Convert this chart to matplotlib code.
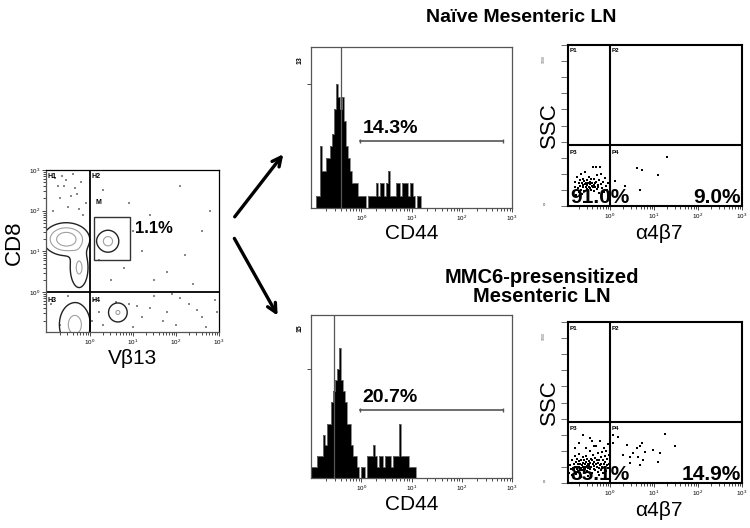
import numpy as np
import matplotlib.pyplot as plt
from matplotlib.patches import FancyArrowPatch, Rectangle
from matplotlib.ticker import LogLocator, NullFormatter, FixedLocator

plt.rcParams['font.family'] = ['Liberation Sans', 'DejaVu Sans']

W, H = 750, 528

# ---- data (log10 units for fluorescence axes) ----
# CD8 vs Vb13 density clusters: centre x, centre y, sd x, sd y, weight
clu_cx = [-0.55, -0.25, -0.35, 0.42, 0.65]
clu_cy = [1.30, 0.60, -0.80, 1.25, -0.50]
clu_sx = [0.24, 0.12, 0.20, 0.14, 0.13]
clu_sy = [0.18, 0.28, 0.30, 0.15, 0.14]
clu_w = [1.0, 0.35, 0.40, 0.40, 0.32]

dots_x = [-0.8, -0.6, -0.4, -0.2, -0.7, -0.5, -0.3, -0.1, -0.85, -0.15, -0.65, -0.35,
          0.3, 0.9, 1.4, 2.1, 2.6, 1.2, 0.8, 1.8, 0.5, 2.2, 1.5, 2.8, 0.2, 1.0, 2.4,
          0.1, 0.3, 0.9, 1.2, 1.5, 1.8, 2.0, 2.3, 2.6, 2.9, 0.2, 1.0, 1.4, 2.1, 2.7,
          0.05, 1.7, 2.95, -0.9, -0.7, -0.5, -0.75, -0.45, -0.25, -0.55, 0.6, 1.1, 1.9, 2.5]
dots_y = [2.8, 2.6, 2.9, 2.7, 2.3, 2.1, 2.4, 2.2, 2.0, 1.9, 2.85, 2.55,
          2.5, 2.2, 1.9, 2.6, 1.5, 1.0, 0.6, 0.5, 0.3, 0.9, 0.3, 2.0, 0.8, 1.5, 0.2,
          -0.2, -0.8, -0.3, -0.6, -0.1, -0.5, -0.8, -0.3, -0.6, -0.2, -0.5, -0.85, -0.4,
          -0.15, -0.85, -0.7, -0.7, -0.5, -0.3, -0.8, -0.1, 2.6, 2.35, 2.05, 2.75, -0.25, -0.35, -0.05, -0.45]

# CD44 histograms (log bins of width 0.04)
naive_start = -0.90
naive_counts = [1, 1, 5, 3, 3, 4, 4, 5, 6, 8, 10, 9, 8, 9, 7, 5, 4, 3, 2, 2,
                2, 1, 1, 1, 1, 0, 1, 1, 1, 1, 2, 1, 2, 2, 1, 2, 3, 1, 1, 1,
                2, 2, 1, 2, 2, 2, 1, 2, 1, 0, 1, 1]
mmc_start = -1.00
mmc_counts = [1, 1, 1, 2, 2, 2, 4, 3, 5, 5, 7, 8, 9, 10, 12, 9, 8, 7, 5, 5,
              3, 2, 2, 1, 0, 1, 1, 0, 2, 2, 2, 3, 2, 1, 2, 2, 1, 2, 2, 2,
              1, 2, 2, 2, 5, 2, 2, 2, 2, 1, 1, 1]
bin_w = 0.04

# a4b7 (log10) vs SSC dot plots
naive_p3 = [(-0.82, 95), (-0.80, 150), (-0.78, 120), (-0.76, 70), (-0.74, 180), (-0.72, 110),
            (-0.71, 140), (-0.70, 85), (-0.68, 160), (-0.67, 125), (-0.66, 200), (-0.65, 100),
            (-0.64, 145), (-0.63, 75), (-0.62, 130), (-0.61, 170), (-0.60, 115), (-0.59, 155),
            (-0.58, 95), (-0.57, 135), (-0.56, 210), (-0.55, 120), (-0.54, 145), (-0.53, 105),
            (-0.52, 160), (-0.51, 130), (-0.50, 90), (-0.49, 140), (-0.48, 180), (-0.47, 120),
            (-0.46, 150), (-0.45, 110), (-0.44, 135), (-0.43, 165), (-0.42, 100), (-0.41, 125),
            (-0.40, 145), (-0.39, 240), (-0.38, 115), (-0.37, 130), (-0.36, 170), (-0.35, 95),
            (-0.34, 140), (-0.33, 120), (-0.32, 240), (-0.31, 150), (-0.30, 105), (-0.29, 190),
            (-0.28, 130), (-0.26, 115), (-0.25, 160), (-0.24, 80), (-0.22, 240), (-0.21, 135),
            (-0.19, 200), (-0.17, 110), (-0.15, 150), (-0.13, 90), (-0.11, 175), (-0.09, 125),
            (-0.07, 100), (-0.05, 145)]
naive_p4 = [(0.11, 157), (0.34, 126), (0.61, 238), (0.68, 99), (0.72, 224), (1.09, 193), (1.29, 306)]

mmc_p3 = [(-0.92, 60), (-0.90, 110), (-0.88, 85), (-0.86, 140), (-0.85, 50), (-0.83, 95),
          (-0.82, 120), (-0.80, 70), (-0.79, 165), (-0.78, 100), (-0.77, 130), (-0.76, 55),
          (-0.75, 90), (-0.74, 150), (-0.73, 115), (-0.72, 75), (-0.71, 135), (-0.70, 100),
          (-0.69, 180), (-0.68, 60), (-0.67, 120), (-0.66, 95), (-0.65, 145), (-0.64, 110),
          (-0.63, 80), (-0.62, 160), (-0.61, 125), (-0.60, 100), (-0.59, 70), (-0.58, 140),
          (-0.57, 115), (-0.56, 90), (-0.55, 170), (-0.54, 130), (-0.53, 105), (-0.52, 75),
          (-0.51, 150), (-0.50, 120), (-0.49, 95), (-0.48, 135), (-0.47, 110), (-0.46, 200),
          (-0.45, 85), (-0.44, 125), (-0.43, 150), (-0.42, 100), (-0.41, 65), (-0.40, 140),
          (-0.39, 115), (-0.38, 175), (-0.37, 90), (-0.36, 130), (-0.35, 105), (-0.34, 155),
          (-0.33, 80), (-0.32, 120), (-0.31, 230), (-0.30, 100), (-0.29, 145), (-0.28, 70),
          (-0.27, 125), (-0.26, 185), (-0.25, 95), (-0.24, 140), (-0.23, 110), (-0.22, 260),
          (-0.21, 80), (-0.20, 160), (-0.19, 120), (-0.18, 100), (-0.17, 190), (-0.16, 65),
          (-0.15, 140), (-0.14, 115), (-0.13, 215), (-0.12, 90), (-0.11, 165), (-0.10, 130),
          (-0.09, 75), (-0.08, 200), (-0.07, 110), (-0.06, 150), (-0.05, 245), (-0.04, 95),
          (-0.03, 175), (-0.02, 120), (-0.60, 300), (-0.45, 280), (-0.70, 250), (-0.35, 230),
          (-0.55, 215), (-0.80, 220), (-0.50, 45), (-0.25, 50), (-0.65, 40), (-0.40, 260)]
mmc_p4 = [(0.08, 298), (0.08, 246), (0.19, 288), (0.38, 236), (0.61, 215), (0.68, 232),
          (0.72, 246), (0.53, 184), (0.64, 163), (0.76, 143), (0.45, 163), (0.68, 112),
          (0.80, 194), (0.98, 205), (1.14, 184), (1.10, 132), (1.25, 304), (1.48, 232),
          (0.30, 174), (0.45, 122)]

pct_gate = '1.1%'
pct_cd44 = ['14.3%', '20.7%']
pct_quad = [('91.0%', '9.0%'), ('85.1%', '14.9%')]
hist_ymax = [13, 15]
titles = ['Naïve Mesenteric LN', 'MMC6-presensitized\nMesenteric LN']


def box(l, t, r, b):
    return [l / W, 1 - b / H, (r - l) / W, (b - t) / H]


def fx(x):
    return x / W


def fy(y):
    return 1 - y / H


def log_ticks(ax, axis='x', labels=True):
    a = ax.xaxis if axis == 'x' else ax.yaxis
    a.set_major_locator(FixedLocator([1, 10, 100, 1000]))
    a.set_minor_locator(LogLocator(base=10, subs=np.arange(2, 10), numticks=12))
    a.set_minor_formatter(NullFormatter())
    if not labels:
        a.set_major_formatter(NullFormatter())


fig = plt.figure(figsize=(7.5, 5.28), dpi=100)

# ---- CD8 vs Vb13 ----
ax = fig.add_axes(box(46, 170, 219, 332))
gx = np.linspace(-1.1, 3.1, 300)
gy = np.linspace(-1.1, 3.1, 300)
GX, GY = np.meshgrid(gx, gy)
Z = np.zeros_like(GX)
for cx, cy, sx, sy, w in zip(clu_cx, clu_cy, clu_sx, clu_sy, clu_w):
    Z += w * np.exp(-0.5 * (((GX - cx) / sx) ** 2 + ((GY - cy) / sy) ** 2))
ax.scatter(10 ** np.array(dots_x), 10 ** np.array(dots_y), s=1.2, color='#888888', marker='s', lw=0)
ax.contour(10 ** GX, 10 ** GY, Z, levels=[0.08, 0.3, 0.65],
           colors=['#222222', '#a0a0a0', '#a0a0a0'], linewidths=[1.0, 0.8, 0.8])
ax.set_xscale('log')
ax.set_yscale('log')
ax.set_xlim(10 ** -1.02, 1000)
ax.set_ylim(10 ** -0.98, 1000)
ax.axvline(1, color='black', lw=1.3)
ax.axhline(1, color='black', lw=1.3)
ax.add_patch(Rectangle((10 ** 0.093, 10 ** 0.80), 10 ** 0.93 - 10 ** 0.093, 10 ** 1.85 - 10 ** 0.80,
                       fill=False, ec='#333333', lw=1.0))
log_ticks(ax, 'x')
log_ticks(ax, 'y')
ax.tick_params(which='both', direction='out', labelsize=4.5, length=2, width=0.5, pad=1)
ax.tick_params(which='major', length=3)
for s in ax.spines.values():
    s.set_color('#555555')
    s.set_linewidth(0.9)
ax.spines['top'].set_color('black')
ax.spines['right'].set_color('black')
for lab, x, y in [('H1', 48, 177), ('H2', 92, 177), ('M', 96, 203), ('H3', 47, 301), ('H4', 92, 301)]:
    fig.text(fx(x), fy(y), lab, fontsize=5, fontweight='bold', va='center', ha='left')
fig.text(fx(135), fy(233), pct_gate, fontsize=12, fontweight='bold', va='baseline', ha='left')
fig.text(fx(14), fy(243), 'CD8', fontsize=16, rotation=90, va='center', ha='center')
fig.text(fx(133), fy(358), 'Vβ13', fontsize=15, va='center', ha='center')

# ---- arrows ----
fig.add_artist(FancyArrowPatch((fx(233), fy(219)), (fx(285), fy(152)), transform=fig.transFigure,
                               arrowstyle='->', mutation_scale=16, lw=2.4, color='black'))
fig.add_artist(FancyArrowPatch((fx(233), fy(236)), (fx(279), fy(318)), transform=fig.transFigure,
                               arrowstyle='->', mutation_scale=16, lw=2.4, color='black'))

# ---- titles ----
fig.text(fx(521), fy(17), titles[0], fontsize=14, fontweight='bold', ha='center', va='center')
fig.text(fx(542), fy(287), titles[1], fontsize=14.5, fontweight='bold', ha='center', va='center',
         linespacing=1.0)

# ---- CD44 histograms ----
hist_boxes = [(311, 47, 512, 208), (311, 315, 512, 478)]
hist_data = [(naive_start, naive_counts), (mmc_start, mmc_counts)]
peak_line = [-0.40, -0.54]
gate_y = [5.4, 6.3]
for i in range(2):
    l, t, r, b = hist_boxes[i]
    ax = fig.add_axes(box(l, t, r, b))
    start, counts = hist_data[i]
    edges = 10 ** (start + bin_w * np.arange(len(counts) + 1))
    ax.stairs(counts, edges, fill=True, color='black')
    ax.stairs(counts, edges, color='#777777', lw=0.6)
    ax.axvline(10 ** peak_line[i], color='#555555', lw=0.9)
    ax.plot([10 ** -0.02, 10 ** 2.82], [gate_y[i], gate_y[i]], color='#555555', lw=1.2,
            marker='|', ms=3)
    ax.text(10 ** 0.03, gate_y[i] + 0.35, pct_cd44[i], fontsize=14, fontweight='bold',
            ha='left', va='bottom')
    ax.set_xscale('log')
    ax.set_xlim(0.1, 1000)
    ax.set_ylim(0, hist_ymax[i])
    log_ticks(ax, 'x')
    ax.set_yticks([10])
    ax.set_yticklabels([])
    ax.tick_params(which='both', direction='out', labelsize=4.5, length=2, width=0.5, pad=1)
    ax.tick_params(which='major', length=3)
    for s in ax.spines.values():
        s.set_color('#555555')
        s.set_linewidth(0.9)
    fig.text(fx(300), fy(t + 13), str(hist_ymax[i]), fontsize=5, fontweight='bold', rotation=90,
             ha='center', va='center')
    fig.text(fx(412), fy(b + 26), 'CD44', fontsize=15, ha='center', va='center')

# ---- a4b7 vs SSC ----
sc_boxes = [(568, 45, 742, 206), (568, 322, 742, 483)]
sc_data = [(naive_p3, naive_p4), (mmc_p3, mmc_p4)]
for i in range(2):
    l, t, r, b = sc_boxes[i]
    ax = fig.add_axes(box(l, t, r, b))
    p3, p4 = sc_data[i]
    pts = np.array(p3 + p4)
    ax.scatter(10 ** pts[:, 0], pts[:, 1], s=2.2, color='black', marker='s', lw=0)
    ax.set_xscale('log')
    ax.set_xlim(10 ** -0.95, 1000)
    ax.set_ylim(0, 1000)
    ax.axvline(1, color='black', lw=1.5)
    ax.axhline(379, color='black', lw=1.5)
    log_ticks(ax, 'x')
    ax.set_yticks(np.arange(0, 1001, 100))
    ax.set_yticklabels([])
    ax.tick_params(which='both', direction='out', labelsize=4.5, length=2, width=0.5, pad=1)
    ax.tick_params(which='major', length=3)
    ax.tick_params(axis='y', length=5, width=0.6, color='#555555')
    for s in ax.spines.values():
        s.set_color('black')
        s.set_linewidth(1.5)
    for lab, x, y in [('P1', l + 2, t + 6), ('P2', 612, t + 6), ('P3', l + 2, t + 107), ('P4', 612, t + 107)]:
        fig.text(fx(x), fy(y), lab, fontsize=4.5, fontweight='bold', va='center', ha='left')
    fig.text(fx(l + 2), fy(b - 3), pct_quad[i][0], fontsize=15, fontweight='bold', ha='left', va='baseline')
    fig.text(fx(r - 1), fy(b - 3), pct_quad[i][1], fontsize=15, fontweight='bold', ha='right', va='baseline')
    fig.text(fx(544), fy(t + 14), '1000', fontsize=2.5, rotation=90, color='#555555', ha='center', va='center')
    fig.text(fx(544), fy(b - 1), '0', fontsize=3, color='#333333', ha='center', va='center')
    fig.text(fx(549), fy(t + 80), 'SSC', fontsize=16, rotation=90, ha='center', va='center')
    fig.text(fx(659), fy(b + 28), 'α4β7', fontsize=15, ha='center', va='center')

fig.savefig('out.png', dpi=100)
